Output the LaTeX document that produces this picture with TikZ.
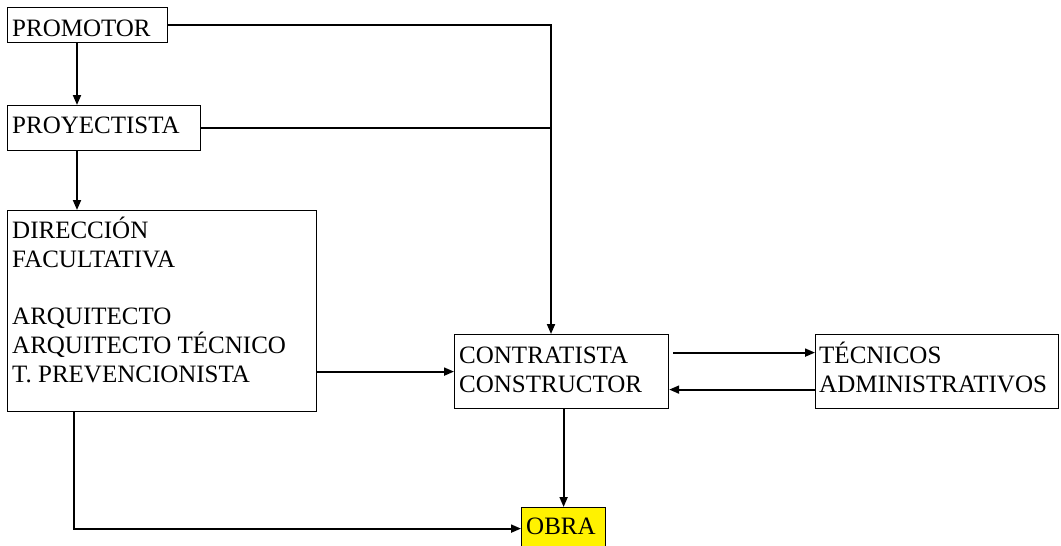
\documentclass[tikz,border=0pt]{standalone}
\usepackage{fontspec}
\setmainfont{Liberation Serif}
\usetikzlibrary{arrows.meta}
\begin{document}
\begin{tikzpicture}[x=1pt,y=-1pt,
  box/.style={draw, line width=1.2pt, inner sep=0pt, anchor=north west},
  txt/.style={anchor=base west, inner sep=0pt, font=\rmfamily\fontsize{25}{29}\selectfont},
  conn/.style={line width=1.9pt},
  arr/.style={conn, -{Triangle[length=10pt,width=8pt]}}]
\useasboundingbox (0,0) rectangle (1061,546);
\clip (0,0) rectangle (1061,546);
% boxes
\node[box, minimum width=160pt, minimum height=35pt] (prom) at (7,7) {};
\node[box, minimum width=193pt, minimum height=45pt] (proy) at (7,105) {};
\node[box, minimum width=309pt, minimum height=201pt] (df) at (7,210) {};
\node[box, minimum width=214pt, minimum height=74pt] (contr) at (454,334) {};
\node[box, minimum width=243pt, minimum height=74pt] (tec) at (815,334) {};
\node[box, fill=yellow, minimum width=84pt, minimum height=42pt] (obra) at (521,507) {};
% texts
\node[txt] (tprom) at (12,36) {PROMOTOR};
\node[txt] (tproy) at (12,133) {PROYECTISTA};
\node[txt] (tdf1) at (12,238) {DIRECCIÓN};
\node[txt] (tdf2) at (12,267) {FACULTATIVA};
\node[txt] (tdf3) at (12,324) {ARQUITECTO};
\node[txt] (tdf4) at (12,353) {ARQUITECTO TÉCNICO};
\node[txt] (tdf5) at (12,382) {T. PREVENCIONISTA};
\node[txt] (tc1) at (459,363) {CONTRATISTA};
\node[txt] (tc2) at (459,392) {CONSTRUCTOR};
\node[txt] (tt1) at (819,363) {TÉCNICOS};
\node[txt] (tt2) at (819,392) {ADMINISTRATIVOS};
\node[txt] (tobra) at (526,534) {OBRA};
% helper coordinates
\coordinate (cx1) at (77,0);
\coordinate (cx2) at (74,0);
\coordinate (j) at (551,0);
% connectors
\draw[arr] (prom.south -| cx1) -- (proy.north -| cx1);
\draw[arr] (proy.south -| cx1) -- (df.north -| cx1);
\draw[arr] (prom.east) -- (prom.east -| j) -- (contr.north -| j);
\draw[conn] (proy.east) -- (proy.east -| j);
\draw[arr] (df.east |- contr.west) -- (contr.west);
\draw[arr] ([xshift=4pt,yshift=19pt]contr.east) -- ([yshift=19pt]tec.west);
\draw[arr] ([yshift=-18pt]tec.west) -- ([yshift=-18pt]contr.east);
\draw[arr] (contr.south -| obra.north) -- (obra.north);
\draw[arr] (df.south -| cx2) -- (cx2 |- obra.west) -- (obra.west);
\end{tikzpicture}
\end{document}
